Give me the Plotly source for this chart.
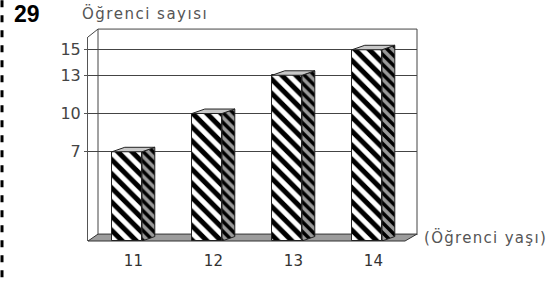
import plotly.graph_objects as go

# ---- data ----
ages = ["11", "12", "13", "14"]
counts = [7, 10, 13, 15]
y_ticks = [7, 10, 13, 15]
y_title = "Öğrenci sayısı"
x_title = "(Öğrenci yaşı)"
question_no = "29"

# ---- geometry (pixels) ----
W, H = 558, 282
PL, PR, PT, PB = 88, 417, 37, 243   # plot area edges in pixels


def px(x):
    return (x - PL) / (PR - PL)


def py(y):
    return (PB - y) / (PB - PT)


xpos = list(range(len(ages)))
bw = 0.375      # bar front width (data units)
ddx, ddy = 0.16, 0.35  # bar depth offset (data units)

fig = go.Figure()

# front faces
fig.add_trace(go.Bar(
    x=xpos, y=counts, width=bw,
    marker=dict(color="white", line=dict(color="#222", width=1),
                pattern=dict(shape="\\", fgcolor="#000", bgcolor="white",
                             fgopacity=1, size=10, solidity=0.5)),
    hoverinfo="skip", showlegend=False,
))

# side faces
sx, sy = [], []
for i, v in zip(xpos, counts):
    x0 = i + bw / 2
    sx += [x0, x0 + ddx, x0 + ddx, x0, x0, None]
    sy += [0, ddy, v + ddy, v, 0, None]
fig.add_trace(go.Scatter(
    x=sx, y=sy, mode="lines", fill="toself",
    fillcolor="#8a8a8a",
    fillpattern=dict(shape="\\", fgcolor="#000", bgcolor="#9a9a9a", fgopacity=1,
                     size=7, solidity=0.5),
    line=dict(color="#222", width=1), hoverinfo="skip", showlegend=False,
))

# top faces
tx, ty = [], []
for i, v in zip(xpos, counts):
    xl, xr = i - bw / 2, i + bw / 2
    tx += [xl, xr, xr + ddx, xl + ddx, xl, None]
    ty += [v, v, v + ddy, v + ddy, v, None]
fig.add_trace(go.Scatter(
    x=tx, y=ty, mode="lines", fill="toself", fillcolor="#c8c8c8",
    line=dict(color="#222", width=1), hoverinfo="skip", showlegend=False,
))

frame = "#444"
shapes = [
    # back wall left edge
    dict(type="line", xref="paper", yref="paper", x0=px(98), x1=px(98), y0=py(29), y1=py(236),
         line=dict(color=frame, width=1)),
    # top-left diagonal
    dict(type="line", xref="paper", yref="paper", x0=px(88), x1=px(98), y0=py(37), y1=py(29),
         line=dict(color=frame, width=1)),
    # top edge
    dict(type="line", xref="paper", yref="paper", x0=px(98), x1=px(417), y0=py(29), y1=py(29),
         line=dict(color=frame, width=1)),
    # right edge
    dict(type="line", xref="paper", yref="paper", x0=px(417), x1=px(417), y0=py(29), y1=py(237),
         line=dict(color=frame, width=1)),
    # floor
    dict(type="path", xref="paper", yref="paper",
         path=f"M {px(88)} {py(243)} L {px(405)} {py(243)} L {px(417)} {py(236)} L {px(98)} {py(236)} Z",
         fillcolor="#9c9c9c", line=dict(color="#333", width=1), layer="below"),
    # dashed margin line
    dict(type="line", xref="paper", yref="paper", x0=px(2), x1=px(2), y0=py(0), y1=py(282),
         line=dict(color="#000", width=3, dash="7px,8px")),
]

annotations = [
    dict(text="<b>" + question_no + "</b>", xref="paper", yref="paper", x=px(27), y=py(14),
         showarrow=False, font=dict(family="Liberation Sans, Arial", size=23, color="#000"),
         xanchor="center", yanchor="middle"),
    dict(text='<span style="letter-spacing:1.5px">' + y_title + "</span>",
         xref="paper", yref="paper", x=px(80), y=py(13),
         showarrow=False, font=dict(family="DejaVu Sans", size=15, color="#555"),
         xanchor="left", yanchor="middle"),
    dict(text='<span style="letter-spacing:1.3px">' + x_title + "</span>",
         xref="paper", yref="paper", x=px(422), y=py(239),
         showarrow=False, font=dict(family="DejaVu Sans", size=15, color="#555"),
         xanchor="left", yanchor="middle"),
]

fig.update_layout(
    width=W, height=H,
    margin=dict(l=PL, r=W - PR, t=PT, b=H - PB, pad=0),
    paper_bgcolor="white", plot_bgcolor="white",
    bargap=0, showlegend=False,
    shapes=shapes, annotations=annotations,
    xaxis=dict(range=[-0.4875, 3.625], tickvals=[i + ddx / 2 for i in xpos], ticktext=ages,
               showgrid=False, zeroline=False, showline=False, ticks="",
               ticklabelstandoff=9,
               tickfont=dict(family="DejaVu Sans", size=15, color="#333"), fixedrange=True),
    yaxis=dict(range=[0, 16], tickvals=y_ticks, ticktext=[str(t) for t in y_ticks],
               showgrid=True, gridcolor="#444", gridwidth=1, zeroline=False,
               showline=True, linecolor="#555", linewidth=1,
               ticks="outside", ticklen=3, tickcolor="#555",
               tickfont=dict(family="DejaVu Sans", size=16, color="#444"), fixedrange=True),
)

fig.write_html("out.html", config={"displayModeBar": False},
               post_script="document.body.style.margin='0';document.body.style.overflow='hidden';")
